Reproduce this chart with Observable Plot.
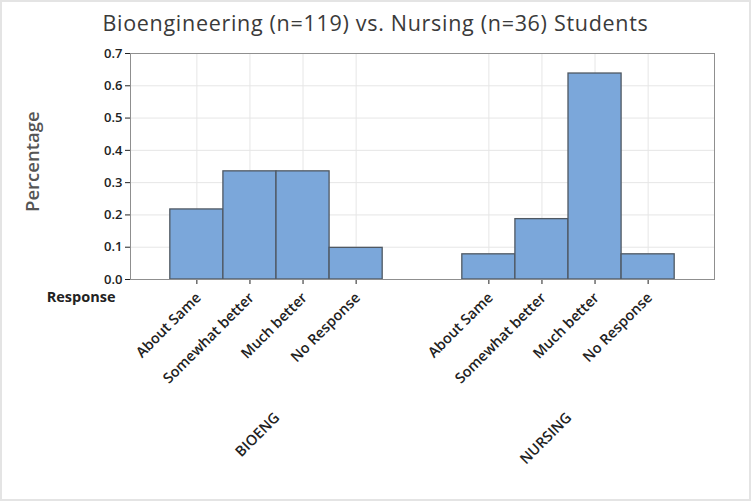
<!DOCTYPE html>
<html><head><meta charset="utf-8">
<script src="https://cdn.jsdelivr.net/npm/d3@7"></script>
<script src="https://cdn.jsdelivr.net/npm/@observablehq/plot@0.6"></script>
<style>
body{margin:0;background:#fff;}
#wrap{width:751px;height:501px;position:relative;outline:2px solid #e4e4e4;outline-offset:-2px;font-family:"Open Sans",sans-serif;overflow:hidden;}
#title{height:44px;line-height:45px;text-align:center;font-size:21.5px;color:#3a3a3a;letter-spacing:0.7px;}
svg{display:block;}
</style></head><body><div id="wrap"><div id="title">Bioengineering (n=119) vs. Nursing (n=36) Students</div></div>
<script>
const groups = ["BIOENG", "NURSING"];
const responses = ["About Same", "Somewhat better", "Much better", "No Response"];
const bioeng = [0.217, 0.335, 0.335, 0.098];
const nursing = [0.078, 0.187, 0.638, 0.078];
const yTicks = [0, 0.1, 0.2, 0.3, 0.4, 0.5, 0.6, 0.7];

const series = [bioeng, nursing];
const rows = groups.flatMap((g, gi) => responses.map((r, i) => {
  const x1 = 0.75 + gi * 5.5 + i;
  return {group: g, response: r, value: series[gi][i], x1, x2: x1 + 1, mid: x1 + 0.5};
}));
const groupRows = groups.map((g, gi) => ({group: g, mid: 0.75 + gi * 5.5 + 2}));
const centers = rows.map(d => d.mid);

const chart = Plot.plot({
  width: 751,
  height: 457,
  marginTop: 9,
  marginBottom: 222,
  marginLeft: 130,
  marginRight: 37,
  style: {fontFamily: "Open Sans, sans-serif", fontSize: "13px", color: "#222", background: "white"},
  x: {domain: [0, 11], ticks: centers, tickFormat: () => "", tickSize: 5, label: null, axis: "bottom"},
  y: {domain: [0, 0.7], ticks: yTicks, tickFormat: d3.format(".1f"), tickSize: 5, tickPadding: 3, label: null},
  marks: [
    Plot.ruleY(yTicks, {stroke: "#e6e6e6"}),
    Plot.ruleX(centers, {stroke: "#e6e6e6"}),
    Plot.rectY(rows, {x1: "x1", x2: "x2", y: "value", fill: "#7ba7da", stroke: "#4f5862", strokeWidth: 1.3}),
    Plot.frame({stroke: "#8f8f8f"}),
    Plot.text(rows, {x: "mid", text: "response", frameAnchor: "bottom", rotate: -45, textAnchor: "end", dx: 5, dy: 19, fontSize: 14.5, fontWeight: 600, fill: "#222"}),
    Plot.text(groupRows, {x: "mid", text: "group", frameAnchor: "bottom", rotate: -45, textAnchor: "end", dx: 4, dy: 139, fontSize: 14.5, fontWeight: 600, fill: "#222"}),
    Plot.text(["Response"], {frameAnchor: "bottom-left", textAnchor: "end", dx: -15, dy: 22, fontSize: 14.5, fontWeight: 700, fill: "#222"}),
    Plot.text(["Percentage"], {y: () => 0.365, frameAnchor: "left", textAnchor: "middle", rotate: -90, dx: -97, fontSize: 18.5, fontWeight: 600, fill: "#555"})
  ]
});
chart.querySelectorAll("g[aria-label='y-axis'] text, g[aria-label='y-axis tick label'] text").forEach(t => t.setAttribute("font-weight", "600"));
document.getElementById("wrap").appendChild(chart);
</script>
</body></html>
